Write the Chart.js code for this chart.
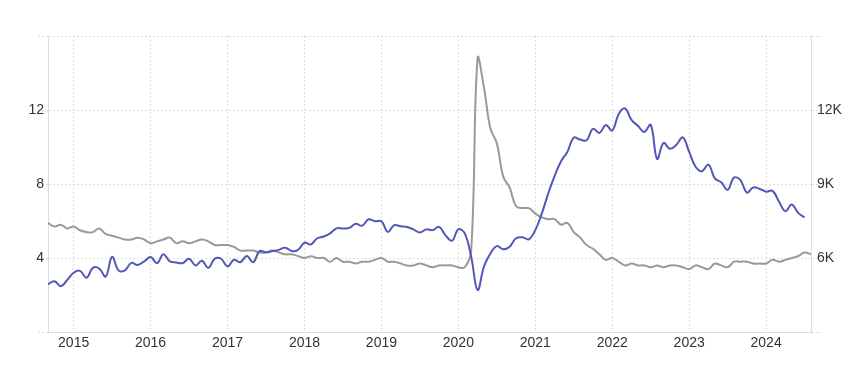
<!DOCTYPE html>
<html>
<head>
<meta charset="utf-8">
<script src="https://cdn.jsdelivr.net/npm/chart.js@4"></script>
<style>
html,body{margin:0;padding:0;background:#fff;}
#wrap{width:852px;height:371px;position:relative;}
</style>
</head>
<body>
<div id="wrap"><canvas id="c"></canvas></div>
<script>
const months = [
"2014-09","2014-10","2014-11","2014-12",
"2015-01","2015-02","2015-03","2015-04","2015-05","2015-06","2015-07","2015-08","2015-09","2015-10","2015-11","2015-12",
"2016-01","2016-02","2016-03","2016-04","2016-05","2016-06","2016-07","2016-08","2016-09","2016-10","2016-11","2016-12",
"2017-01","2017-02","2017-03","2017-04","2017-05","2017-06","2017-07","2017-08","2017-09","2017-10","2017-11","2017-12",
"2018-01","2018-02","2018-03","2018-04","2018-05","2018-06","2018-07","2018-08","2018-09","2018-10","2018-11","2018-12",
"2019-01","2019-02","2019-03","2019-04","2019-05","2019-06","2019-07","2019-08","2019-09","2019-10","2019-11","2019-12",
"2020-01","2020-02","2020-03","2020-04","2020-05","2020-06","2020-07","2020-08","2020-09","2020-10","2020-11","2020-12",
"2021-01","2021-02","2021-03","2021-04","2021-05","2021-06","2021-07","2021-08","2021-09","2021-10","2021-11","2021-12",
"2022-01","2022-02","2022-03","2022-04","2022-05","2022-06","2022-07","2022-08","2022-09","2022-10","2022-11","2022-12",
"2023-01","2023-02","2023-03","2023-04","2023-05","2023-06","2023-07","2023-08","2023-09","2023-10","2023-11","2023-12",
"2024-01","2024-02","2024-03","2024-04","2024-05","2024-06","2024-07","2024-08"
];

// Unemployment rate (%), left axis
const unemploymentRate = [
5.9,5.7,5.8,5.6,
5.7,5.5,5.4,5.4,5.6,5.3,5.2,5.1,5.0,5.0,5.1,5.0,
4.8,4.9,5.0,5.1,4.8,4.9,4.8,4.9,5.0,4.9,4.7,4.7,
4.7,4.6,4.4,4.4,4.4,4.3,4.3,4.4,4.3,4.2,4.2,4.1,
4.0,4.1,4.0,4.0,3.8,4.0,3.8,3.8,3.7,3.8,3.8,3.9,
4.0,3.8,3.8,3.7,3.6,3.6,3.7,3.6,3.5,3.6,3.6,3.6,
3.5,3.5,4.4,14.8,13.2,11.0,10.2,8.4,7.8,6.8,6.7,6.7,
6.4,6.2,6.1,6.1,5.8,5.9,5.4,5.1,4.7,4.5,4.2,3.9,
4.0,3.8,3.6,3.7,3.6,3.6,3.5,3.6,3.5,3.6,3.6,3.5,
3.4,3.6,3.5,3.4,3.7,3.6,3.5,3.8,3.8,3.8,3.7,3.7,
3.7,3.9,3.8,3.9,4.0,4.1,4.3,4.2
];

// Job openings (thousands, shown as K), right axis
const jobOpeningsK = [
4.93,5.06,4.86,5.11,
5.40,5.48,5.20,5.60,5.57,5.25,6.05,5.50,5.50,5.80,5.72,5.86,
6.04,5.79,6.15,5.86,5.82,5.79,5.97,5.70,5.89,5.60,5.97,5.97,
5.66,5.93,5.83,6.08,5.83,6.28,6.23,6.28,6.33,6.42,6.28,6.33,
6.62,6.55,6.80,6.87,7.00,7.20,7.20,7.22,7.39,7.31,7.57,7.49,
7.49,7.06,7.33,7.29,7.26,7.16,7.03,7.16,7.13,7.26,6.92,6.70,
7.16,7.00,6.05,4.70,5.66,6.18,6.48,6.35,6.46,6.80,6.84,6.76,
7.13,7.79,8.60,9.32,9.91,10.30,10.88,10.80,10.77,11.24,11.07,11.39,
11.17,11.83,12.06,11.60,11.36,11.11,11.40,10.02,10.66,10.43,10.59,10.89,
10.30,9.70,9.52,9.79,9.23,9.07,8.76,9.26,9.16,8.65,8.86,8.80,
8.69,8.72,8.29,7.90,8.17,7.83,7.64
];

const yearTicks = ["2015","2016","2017","2018","2019","2020","2021","2022","2023","2024"];
const leftTicks = [4, 8, 12];
const rightTicksK = [6, 9, 12];

const yearIndex = {};
yearTicks.forEach(y => { yearIndex[months.indexOf(y + "-01")] = y; });

const font = {family: "'Liberation Sans', Arial, Helvetica, sans-serif", size: 14};
const gridColor = '#dddddd';

new Chart(document.getElementById('c'), {
  type: 'line',
  data: {
    datasets: [
      {
        label: 'Job openings',
        data: jobOpeningsK.map((v, i) => ({x: i, y: v})),
        yAxisID: 'yR',
        borderColor: '#5257b8',
        borderWidth: 2,
        pointRadius: 0,
        tension: 0.4,
        fill: false
      },
      {
        label: 'Unemployment rate',
        data: unemploymentRate.map((v, i) => ({x: i, y: v})),
        yAxisID: 'yL',
        borderColor: '#999999',
        borderWidth: 2,
        pointRadius: 0,
        tension: 0.4,
        fill: false
      }
    ]
  },
  options: {
    responsive: true,
    maintainAspectRatio: false,
    animation: false,
    layout: {padding: {top: 36, left: 0, right: 0, bottom: 0}},
    plugins: {legend: {display: false}, tooltip: {enabled: false}},
    scales: {
      x: {
        type: 'linear',
        min: 0,
        max: months.length - 1,
        afterBuildTicks: (axis) => {
          axis.ticks = Object.keys(yearIndex).map(k => ({value: Number(k)}));
        },
        afterFit: (axis) => { axis.height = 39; },
        ticks: {
          autoSkip: false,
          maxRotation: 0,
          padding: 3,
          color: '#333',
          font: font,
          callback: (v) => yearIndex[v] || ''
        },
        grid: {color: gridColor, drawTicks: false, tickLength: 0},
        border: {display: true, color: gridColor, dash: [2, 2]}
      },
      yL: {
        position: 'left',
        min: 0,
        max: 16,
        afterBuildTicks: (axis) => {
          axis.ticks = [0].concat(leftTicks, [16]).map(v => ({value: v}));
        },
        afterFit: (axis) => { axis.width = 48; },
        ticks: {
          color: '#333',
          font: font,
          padding: -6,
          callback: (v) => leftTicks.includes(v) ? String(v) : ''
        },
        grid: {color: gridColor, tickLength: 10, tickBorderDash: [2, 2]},
        border: {display: true, color: gridColor, dash: [2, 2]}
      },
      yR: {
        position: 'right',
        min: 3,
        max: 15,
        afterBuildTicks: (axis) => {
          axis.ticks = [3].concat(rightTicksK, [15]).map(v => ({value: v}));
        },
        afterFit: (axis) => { axis.width = 41; },
        ticks: {
          color: '#333',
          font: font,
          padding: -4,
          callback: (v) => rightTicksK.includes(v) ? v + 'K' : ''
        },
        grid: {color: gridColor, drawOnChartArea: false, tickLength: 10, tickBorderDash: [2, 2]},
        border: {display: true, color: gridColor}
      }
    }
  }
});
</script>
</body>
</html>
